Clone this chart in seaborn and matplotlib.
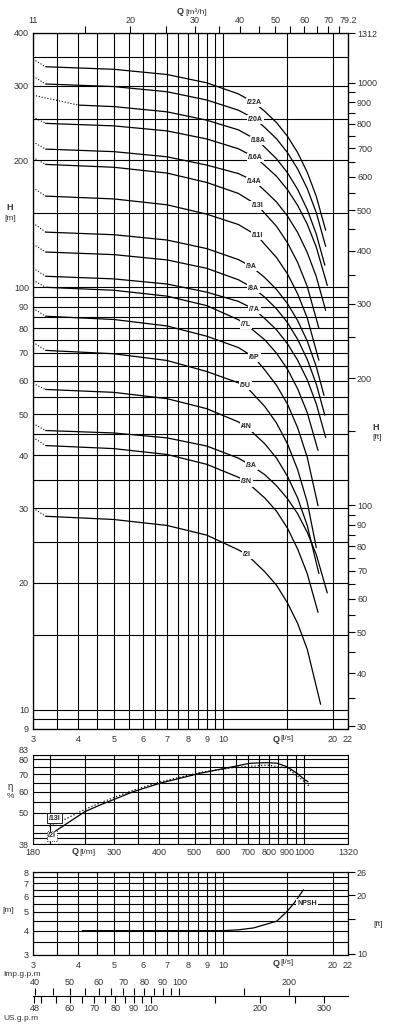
import matplotlib
matplotlib.use("Agg")
import matplotlib.pyplot as plt
import pandas as pd
import seaborn as sns
from matplotlib.ticker import NullFormatter

sns.set_theme(style="white")
plt.rcParams['font.family'] = ['Liberation Sans', 'DejaVu Sans']

W, H = 397, 1030
TXT = '#333333'
M2FT = 3.28084
LS2M3H = 3.6
LS2IMP = 13.198
LS2US = 15.850

# ---------------- H-Q curves (Q in l/s, H in m) ----------------
pumps = ['/22A', '/20A', '/18A', '/16A', '/14A', '/13I', '/11I', '/9A', '/8A',
         '/7A', '/7L', '/6P', '/5U', '/4N', '/3A', '/3N', '/2I']
h_shutoff = [347, 316, 285, 253, 221, 203, 172, 142, 126.5, 111, 104, 89.2,
             74.1, 59.2, 47.6, 44.1, 30.0]
q_solid = [3.25, 3.25, 4.0, 3.25, 3.25, 3.25, 3.25, 3.25, 3.25, 3.25, 3.25,
           3.25, 3.25, 3.25, 3.25, 3.25, 3.25]
h_solid = [332.8, 302.9, 270, 244.4, 212.4, 195.4, 164.4, 135.1, 121.2, 106.2,
           100.0, 85.4, 70.9, 57.3, 45.8, 42.2, 28.7]
q_mid = [5, 7, 9, 11]
h_mid = [[328.2, 319.0, 304.9, 287.0],
         [298.7, 290.4, 277.6, 262.6],
         [267.8, 260.3, 248.7, 235.9],
         [241.1, 234.6, 224.5, 212.8],
         [209.5, 203.7, 194.7, 185.9],
         [192.4, 186.4, 177.1, 166.8],
         [161.9, 156.8, 149.0, 140.8],
         [133.2, 129.4, 123.5, 116.3],
         [119.5, 116.1, 110.9, 104.2],
         [104.7, 101.8, 97.4, 92.6],
         [98.4, 95.3, 90.5, 83.8],
         [83.9, 81.0, 76.6, 72.0],
         [69.6, 67.1, 63.2, 59.4],
         [56.4, 54.5, 51.6, 48.0],
         [45.2, 44.0, 42.1, 39.4],
         [41.5, 40.2, 38.1, 35.5],
         [28.2, 27.3, 25.9, 23.9]]
q_label = [12.16, 12.22, 12.48, 12.27, 12.16, 12.4, 12.4, 11.97, 12.09, 12.16,
           11.52, 12.16, 11.52, 11.6, 11.97, 11.6, 11.6]
h_label = [273.5, 250.2, 222.2, 202.6, 178.4, 156.5, 132.4, 111.8, 99.6, 88.7,
           81.8, 68.2, 58.4, 46.7, 37.8, 34.6, 23.3]
q_tail = [13, 14, 15, 16, 17, 18]
h_tail = [[260.9, 245.4, 227.8, 208.4, 187.2, 164.2],
          [238.9, 224.7, 208.4, 190.6, 171.3, 150.2],
          [214.5, 201.5, 186.7, 170.5, 152.8, 133.7],
          [194.2, 183.1, 170.3, 156.3, 141.1, 124.5],
          [169.3, 159.2, 147.5, 134.8, 120.9, 106.0],
          [149.6, 139.4, 127.5, 114.5, 100.5],
          [126.3, 117.6, 107.6, 96.5, 84.6],
          [105.4, 98.8, 91.5, 83.4, 74.6, 64.9],
          [94.7, 88.9, 82.5, 75.3, 67.5, 59.0],
          [84.3, 79.3, 73.5, 67.2, 60.4, 53.0],
          [75.1, 69.8, 64.0, 57.5, 50.5],
          [63.7, 58.6, 52.9, 46.5, 39.6],
          [52.2, 47.7, 42.6, 37.0, 31.0],
          [42.6, 39.4, 35.7, 31.7, 27.3],
          [36.0, 33.9, 31.6, 29.1, 26.3, 23.3],
          [31.7, 29.5, 26.9, 24.0, 21.0],
          [21.2, 19.7, 17.9, 16.0, 13.9]]
q_end = [19.1, 19.1, 19.0, 19.3, 19.1, 18.3, 18.3, 18.9, 19.0, 19.1, 18.2, 18.2,
         18.0, 18.3, 19.3, 18.2, 18.5]
h_end = [136.5, 125, 112.8, 101, 88.2, 80, 67.2, 55.5, 49.8, 44.1, 41.1, 30.4,
         24.2, 21.0, 18.9, 17.0, 10.3]

# axis ticks / grid of the H-Q chart
q_ticks = [3, 4, 5, 6, 7, 8, 9, 10, 20, 22]
q_grid = [3.5, 4, 4.5, 5, 5.5, 6, 6.5, 7, 7.5, 8, 8.5, 9, 9.5, 10, 15, 20]
h_ticks = [9, 10, 20, 30, 40, 50, 60, 70, 80, 90, 100, 200, 300, 400]
h_grid = [9.5, 10, 15, 20, 25, 30, 35, 40, 45, 50, 55, 60, 65, 70, 75, 80, 85,
          90, 95, 100, 150, 200, 250, 300, 350]
ft_ticks = [30, 40, 50, 60, 70, 80, 90, 100, 200, 300, 400, 500, 600, 700, 800,
            900, 1000]
ft_minor = [35, 45, 55, 65, 75, 85, 95, 150, 250, 350, 450, 550, 650, 750, 850, 950]
m3h_ticks = [20, 30, 40, 50, 60, 70]
m3h_minor = [15, 20, 25, 30, 35, 40, 45, 50, 55, 60, 65, 70, 75]

# ---------------- efficiency (Q in l/min, eta in %) ----------------
eta_q_solid = [206, 250, 275, 340, 402, 518, 638, 710, 791, 843, 897, 956, 1006, 1025]
eta_solid = [42.3, 50.5, 53.5, 60.2, 64.8, 70.7, 74.9, 77.2, 77.6, 77.2, 74.9,
             70.7, 66.7, 65.7]
eta_q_dot = [200, 250, 275, 340, 402, 518, 638, 791, 897, 974, 1038]
eta_dot = [44.2, 51.5, 54.5, 61.0, 65.5, 71.2, 74.3, 76.0, 74.1, 67.8, 62.8]
qlm_ticks = [180, 300, 400, 500, 600, 700, 800, 900, 1000, 1320]
qlm_grid = [200, 250, 300, 350, 400, 450, 500, 550, 600, 650, 700, 750, 800,
            850, 900, 950, 1000]
eta_ticks = [38, 50, 60, 70, 80, 83]
eta_grid = [40, 42, 45, 50, 55, 60, 65, 70, 75, 80]

# ---------------- NPSH (Q in l/s, m) ----------------
npsh_q = [4.1, 10, 11, 12.1, 14.0, 14.9, 15.7, 16.6]
npsh_h = [4.0, 4.0, 4.04, 4.13, 4.47, 4.98, 5.58, 6.49]
npsh_ticks = [3, 4, 5, 6, 7, 8]
npsh_grid = [3.5, 4, 4.5, 5, 5.5, 6, 6.5, 7, 7.5]
npsh_ft_ticks = [10, 20]
npsh_ft_minor = [15]

# ---------------- gallon scales ----------------
imp_ticks = [40, 50, 60, 70, 80, 90, 100, 200]
imp_minor = [45, 55, 65, 75, 85, 95, 150]
us_ticks = [48, 60, 70, 80, 90, 100, 200, 300]
us_minor = [50, 55, 65, 75, 85, 95, 150, 250]


def box(x0, y0, x1, y1):
    return [x0 / W, 1 - y1 / H, (x1 - x0) / W, (y1 - y0) / H]


def style(a):
    for s in a.spines.values():
        s.set_color('black')
        s.set_linewidth(0.8)
    a.set_xlabel('')
    a.set_ylabel('')


def fmt(v):
    return f"{v:g}"


fig = plt.figure(figsize=(W / 100, H / 100), dpi=100)

# ======================= main H-Q chart =======================
ax = fig.add_axes(box(33, 33, 348, 729))
rows = []
for i, name in enumerate(pumps):
    tail = h_tail[i]
    qs = [q_solid[i]] + q_mid + [q_label[i]] + q_tail[:len(tail)] + [q_end[i]]
    hs = [h_solid[i]] + h_mid[i] + [h_label[i]] + tail + [h_end[i]]
    rows += [(name, q, h) for q, h in zip(qs, hs)]
solid = pd.DataFrame(rows, columns=['pump', 'Q', 'H'])
dotted = pd.DataFrame({'pump': pumps * 2,
                       'Q': [3.0] * len(pumps) + q_solid,
                       'H': h_shutoff + h_solid})

sns.lineplot(data=solid, x='Q', y='H', units='pump', estimator=None, sort=False,
             color='black', linewidth=0.9, ax=ax, legend=False)
sns.lineplot(data=dotted, x='Q', y='H', units='pump', estimator=None, sort=False,
             color='black', linewidth=0.8, linestyle=':', ax=ax, legend=False)
for name, q, h in zip(pumps, q_label, h_label):
    ax.text(q, h, name, ha='center', va='center', fontsize=5, fontweight='bold',
            color='#222222', zorder=5,
            bbox=dict(boxstyle='square,pad=0.15', fc='white', ec='none'))

ax.set_xscale('log')
ax.set_yscale('log')
ax.set_xlim(3, 22)
ax.set_ylim(9, 400)
ax.set_xticks(q_ticks, [fmt(v) for v in q_ticks])
ax.set_xticks(q_grid, minor=True)
ax.set_yticks(h_ticks, [fmt(v) for v in h_ticks])
ax.set_yticks(h_grid, minor=True)
ax.xaxis.set_minor_formatter(NullFormatter())
ax.yaxis.set_minor_formatter(NullFormatter())
ax.grid(which='both', color='black', linewidth=0.8)
ax.tick_params(which='both', length=0, labelsize=6.5, labelcolor=TXT, pad=3)
ax.tick_params(axis='x', pad=4)
style(ax)

axr = ax.twinx()
axr.set_yscale('log')
axr.set_ylim(9 * M2FT, 400 * M2FT)
axr.set_yticks(ft_ticks + [400 * M2FT], [fmt(v) for v in ft_ticks] + ['1312'])
axr.set_yticks(ft_minor, minor=True)
axr.yaxis.set_minor_formatter(NullFormatter())
axr.tick_params(which='both', direction='out', length=5, width=0.8, color='black',
                labelsize=6.5, labelcolor=TXT, pad=1.5, right=True)
style(axr)

axt = ax.twiny()
axt.set_xscale('log')
axt.set_xlim(3 * LS2M3H, 22 * LS2M3H)
axt.set_xticks([3 * LS2M3H] + m3h_ticks + [22 * LS2M3H],
               ['11'] + [fmt(v) for v in m3h_ticks] + ['79.2'])
axt.set_xticks(m3h_minor, minor=True)
axt.xaxis.set_minor_formatter(NullFormatter())
axt.xaxis.remove_overlapping_locs = False
axt.tick_params(which='major', length=0, labelsize=6.5, labelcolor=TXT, pad=6)
axt.tick_params(which='minor', direction='out', length=5, width=0.8, color='black', top=True)
style(axt)

fig.text(177 / W, 1 - 12 / H, 'Q', fontsize=6.5, fontweight='bold', color=TXT, va='center')
fig.text(185 / W, 1 - 12 / H, '[m³/h]', fontsize=6, color=TXT, va='center')
fig.text(273 / W, 1 - 739 / H, 'Q', fontsize=6.5, fontweight='bold', color=TXT, va='center')
fig.text(280 / W, 1 - 739 / H, '[l/s]', fontsize=6, color=TXT, va='center')
fig.text(10 / W, 1 - 208 / H, 'H', fontsize=6.5, fontweight='bold', color=TXT,
         ha='center', va='center')
fig.text(10 / W, 1 - 219 / H, '[m]', fontsize=6, color=TXT, ha='center', va='center')
fig.text(376 / W, 1 - 427 / H, 'H', fontsize=6.5, fontweight='bold', color=TXT,
         ha='center', va='center')
fig.text(377 / W, 1 - 438 / H, '[ft]', fontsize=6, color=TXT, ha='center', va='center')

# ======================= efficiency =======================
axe = fig.add_axes(box(33, 755, 348, 844))
sns.lineplot(x=eta_q_solid, y=eta_solid, color='black', linewidth=0.9, sort=False,
             ax=axe)
sns.lineplot(x=eta_q_dot, y=eta_dot, color='black', linewidth=0.9, linestyle=':',
             sort=False, ax=axe)
axe.text(206, 47.7, '/13I', ha='center', va='center', fontsize=5, fontweight='bold',
         color='#222222', zorder=5,
         bbox=dict(boxstyle='square,pad=0.2', fc='white', ec='black', lw=0.6))
axe.text(203, 40.8, '/2I', ha='center', va='center', fontsize=5, fontweight='bold',
         color='#222222', zorder=5,
         bbox=dict(boxstyle='square,pad=0.2', fc='white', ec='black', lw=0.6,
                   linestyle=':'))
axe.set_xscale('log')
axe.set_yscale('log')
axe.set_xlim(180, 1320)
axe.set_ylim(38, 83)
axe.set_xticks(qlm_ticks, [fmt(v) for v in qlm_ticks])
axe.set_xticks(qlm_grid, minor=True)
axe.set_yticks(eta_ticks, [fmt(v) for v in eta_ticks])
axe.set_yticks(eta_grid, minor=True)
axe.xaxis.set_minor_formatter(NullFormatter())
axe.yaxis.set_minor_formatter(NullFormatter())
axe.grid(which='both', color='black', linewidth=0.8)
axe.tick_params(which='both', length=0, labelsize=6.5, labelcolor=TXT, pad=3)
for lbl in axe.get_yticklabels():
    if lbl.get_text() == '83':
        lbl.set_va('bottom')
style(axe)
fig.text(72 / W, 1 - 852 / H, 'Q', fontsize=6.5, fontweight='bold', color=TXT, va='center')
fig.text(79 / W, 1 - 852 / H, '[l/m]', fontsize=6, color=TXT, va='center')
fig.text(10 / W, 1 - 787 / H, 'η', fontsize=7, color=TXT, ha='center', va='center')
fig.text(10 / W, 1 - 797 / H, '%', fontsize=6, color=TXT, ha='center', va='center')

# ======================= NPSH =======================
axn = fig.add_axes(box(33, 872, 348, 955))
sns.lineplot(x=npsh_q, y=npsh_h, color='black', linewidth=0.9, sort=False, ax=axn)
axn.text(15.95, 5.52, 'NPSH', ha='left', va='center', fontsize=5, fontweight='bold',
         color='#222222', zorder=5,
         bbox=dict(boxstyle='square,pad=0.15', fc='white', ec='none'))
axn.set_xscale('log')
axn.set_yscale('log')
axn.set_xlim(3, 22)
axn.set_ylim(3, 8)
axn.set_xticks(q_ticks, [fmt(v) for v in q_ticks])
axn.set_xticks(q_grid, minor=True)
axn.set_yticks(npsh_ticks, [fmt(v) for v in npsh_ticks])
axn.set_yticks(npsh_grid, minor=True)
axn.xaxis.set_minor_formatter(NullFormatter())
axn.yaxis.set_minor_formatter(NullFormatter())
axn.grid(which='both', color='black', linewidth=0.8)
axn.tick_params(which='both', length=0, labelsize=6.5, labelcolor=TXT, pad=3)
axn.tick_params(axis='x', pad=4)
style(axn)

axnr = axn.twinx()
axnr.set_yscale('log')
axnr.set_ylim(3 * M2FT, 8 * M2FT)
axnr.set_yticks(npsh_ft_ticks + [8 * M2FT], [fmt(v) for v in npsh_ft_ticks] + ['26'])
axnr.set_yticks(npsh_ft_minor, minor=True)
axnr.yaxis.set_minor_formatter(NullFormatter())
axnr.tick_params(which='both', direction='out', length=5, width=0.8, color='black',
                 labelsize=6.5, labelcolor=TXT, pad=1.5, right=True)
style(axnr)
fig.text(273 / W, 1 - 963 / H, 'Q', fontsize=6.5, fontweight='bold', color=TXT, va='center')
fig.text(280 / W, 1 - 963 / H, '[l/s]', fontsize=6, color=TXT, va='center')
fig.text(8 / W, 1 - 910 / H, '[m]', fontsize=6, color=TXT, ha='center', va='center')
fig.text(378 / W, 1 - 925 / H, '[ft]', fontsize=6, color=TXT, ha='center', va='center')

# ======================= gallon scales =======================
axu = fig.add_axes(box(33, 995, 348, 996))
axu.set_xscale('log')
axu.set_xlim(3 * LS2US, 22 * LS2US)
axu.set_xticks(us_ticks, [fmt(v) for v in us_ticks])
axu.set_xticks(us_minor, minor=True)
axu.xaxis.set_minor_formatter(NullFormatter())
axu.set_yticks([])
axu.tick_params(axis='x', which='both', direction='out', length=5, width=0.8,
                color='black', labelsize=6.5, labelcolor=TXT, pad=0.5, bottom=True)
for side in ['top', 'left', 'right']:
    axu.spines[side].set_visible(False)
axu.spines['bottom'].set_color('black')
axu.spines['bottom'].set_linewidth(0.8)
axu.patch.set_visible(False)

axi = fig.add_axes(box(33, 995, 348, 996))
axi.set_xscale('log')
axi.set_xlim(3 * LS2IMP, 22 * LS2IMP)
axi.xaxis.tick_top()
axi.set_xticks(imp_ticks, [fmt(v) for v in imp_ticks])
axi.set_xticks(imp_minor, minor=True)
axi.xaxis.set_minor_formatter(NullFormatter())
axi.set_yticks([])
axi.tick_params(axis='x', which='both', direction='out', length=5, width=0.8,
                color='black', labelsize=6.5, labelcolor=TXT, pad=0.5, top=True)
for s in axi.spines.values():
    s.set_visible(False)
axi.patch.set_visible(False)

fig.text(3 / W, 1 - 974 / H, 'Imp.g.p.m', fontsize=6, color=TXT, va='center')
fig.text(3 / W, 1 - 1018 / H, 'US.g.p.m', fontsize=6, color=TXT, va='center')

fig.savefig('out.png', dpi=100, facecolor='white')
